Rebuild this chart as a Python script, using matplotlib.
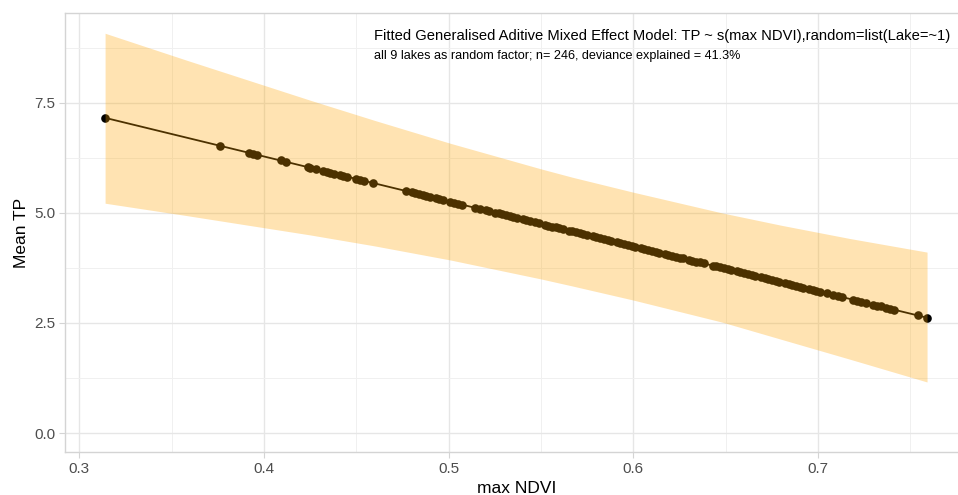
import numpy as np
import matplotlib
matplotlib.use("Agg")
import matplotlib.pyplot as plt
from matplotlib.ticker import MultipleLocator

plt.rcParams['font.family'] = ['Liberation Sans', 'DejaVu Sans']

# max NDVI of each lake-year observation (overlapping points collapse on the curve)
ndvi = [0.314, 0.376,
        0.392, 0.394, 0.396, 0.409, 0.412,
        0.424, 0.425, 0.428,
        0.432, 0.434, 0.436, 0.438, 0.441, 0.443, 0.445,
        0.450, 0.452, 0.454, 0.459,
        0.477, 0.480, 0.482, 0.484, 0.486, 0.488, 0.490, 0.493, 0.495, 0.497,
        0.501, 0.503, 0.505, 0.507,
        0.514, 0.517, 0.520, 0.522, 0.525,
        0.527, 0.529, 0.531, 0.533, 0.535, 0.537, 0.540, 0.542, 0.544,
        0.547, 0.549, 0.552, 0.554, 0.556, 0.558, 0.560, 0.562, 0.565, 0.567, 0.569, 0.571,
        0.573, 0.575, 0.578, 0.580, 0.582, 0.584, 0.586, 0.588, 0.591, 0.593,
        0.595, 0.597, 0.599, 0.601, 0.604, 0.606, 0.608, 0.610, 0.612, 0.614,
        0.617, 0.619, 0.621, 0.623, 0.625, 0.627, 0.630, 0.632, 0.634, 0.636, 0.638,
        0.643, 0.645, 0.647, 0.649, 0.651, 0.653, 0.656, 0.658, 0.660, 0.662,
        0.664, 0.666, 0.669, 0.671, 0.673, 0.675, 0.677, 0.679, 0.682, 0.684,
        0.686, 0.688, 0.690, 0.692, 0.695, 0.697, 0.699, 0.701,
        0.705, 0.708, 0.711, 0.713,
        0.719, 0.721, 0.723, 0.726,
        0.730, 0.732, 0.734, 0.737, 0.739, 0.741,
        0.754, 0.759]

# smooth term is effectively linear (edf ~ 1)
fit_intercept = 10.362
fit_slope = -10.20

# 95% confidence band of the smooth
ci_x = [0.314, 0.358, 0.425, 0.460, 0.501, 0.550, 0.567, 0.600, 0.648, 0.680, 0.717, 0.759]
ci_upper = [9.08, 8.47, 7.56, 7.10, 6.58, 6.00, 5.81, 5.47, 5.00, 4.72, 4.42, 4.11]
ci_lower = [5.22, 4.94, 4.50, 4.25, 3.93, 3.50, 3.34, 3.02, 2.52, 2.13, 1.68, 1.16]

title_line = "Fitted Generalised Aditive Mixed Effect Model: TP ~ s(max NDVI),random=list(Lake=~1)"
sub_line = "all 9 lakes as random factor; n= 246, deviance explained = 41.3%"


def main():
    fig = plt.figure(figsize=(9.58, 4.95), dpi=100)
    # panel runs a little past the right edge of the canvas
    ax = fig.add_axes([65 / 958, 43 / 495, 903.8 / 958, 439 / 495])

    x = np.array(ndvi)
    fitted = fit_intercept + fit_slope * x

    ax.plot(x, fitted, color='black', lw=1.3, zorder=2)
    ax.plot(x, fitted, 'o', color='black', ms=6.2, mew=0, zorder=2)
    # ribbon sits on top and tints the line underneath
    ax.fill_between(ci_x, ci_lower, ci_upper, color='orange', alpha=0.3,
                    linewidth=0, zorder=3)

    ax.set_xlim(0.2923, 0.7816)
    ax.set_ylim(-0.43, 9.54)
    ax.xaxis.set_major_locator(MultipleLocator(0.1))
    ax.xaxis.set_minor_locator(MultipleLocator(0.05))
    ax.yaxis.set_major_locator(MultipleLocator(2.5))
    ax.yaxis.set_minor_locator(MultipleLocator(1.25))
    ax.xaxis.set_major_formatter(plt.FuncFormatter(lambda v, p: f"{v:.1f}"))
    ax.yaxis.set_major_formatter(plt.FuncFormatter(lambda v, p: f"{v:.1f}"))

    ax.set_axisbelow(True)
    ax.grid(which='major', color='#e6e6e6', lw=1.0, zorder=0)
    ax.grid(which='minor', color='#f0f0f0', lw=0.7, zorder=0)
    for s in ax.spines.values():
        s.set_color('#d4d4d4')
        s.set_linewidth(1.0)
    ax.tick_params(which='major', length=4, width=0.8, color='#d4d4d4',
                   labelcolor='#4d4d4d', labelsize=11, pad=3)
    ax.tick_params(which='minor', length=0)

    ax.set_xlabel("max NDVI", fontsize=12.5, color='black', labelpad=4)
    ax.set_ylabel("Mean TP", fontsize=12.5, color='black', labelpad=4)

    fig.text(374 / 958, 1 - 40 / 495, title_line, fontsize=10.6, ha='left',
             va='baseline', color='black')
    fig.text(374 / 958, 1 - 59 / 495, sub_line, fontsize=9.1, ha='left',
             va='baseline', color='black')

    fig.savefig("out.png", dpi=100)


if __name__ == '__main__':
    main()
